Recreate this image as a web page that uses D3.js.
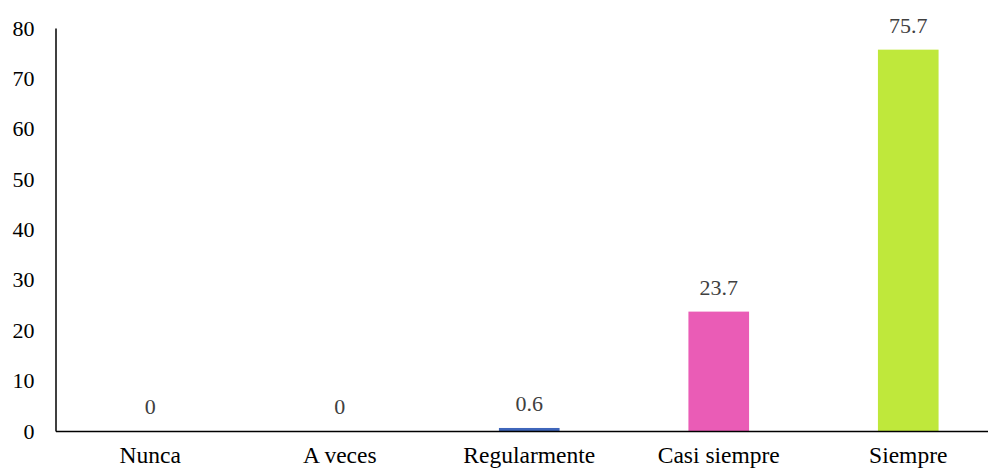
<!DOCTYPE html>
<html>
<head>
<meta charset="utf-8">
<script src="https://cdn.jsdelivr.net/npm/d3@7/dist/d3.min.js"></script>
<style>
  body { margin: 0; background: #fff; }
  svg { display: block; }
</style>
</head>
<body>
<div id="container"></div>
<script>
var width = 988;
var height = 471;
var fontFam = "'Liberation Serif', 'Times New Roman', Times, serif";

// Data
var categories = ["Nunca", "A veces", "Regularmente", "Casi siempre", "Siempre"];
var values = [0, 0, 0.6, 23.7, 75.7];
var barColors = ["#4472c4", "#4472c4", "#3f66bb", "#ea5cb6", "#bfe83b"];
var yTicks = [0, 10, 20, 30, 40, 50, 60, 70, 80];

var svg = d3.select("div#container").append("svg")
    .attr("width", width)
    .attr("height", height)
    .style("font-family", fontFam);

var x = d3.scaleBand()
    .domain(categories)
    .range([55.5, 1003])
    .paddingInner(0.68)
    .paddingOuter(0.34);

var y = d3.scaleLinear()
    .domain([0, 80])
    .range([431, 28]);

// y axis
var yAxis = svg.append("g")
    .attr("transform", "translate(55.5,0)")
    .call(d3.axisLeft(y).tickValues(yTicks).tickSize(0).tickPadding(21))
    .attr("font-family", fontFam);
yAxis.select(".domain").attr("stroke", "#000").attr("stroke-width", 1.5);
yAxis.selectAll("text")
    .attr("fill", "#000")
    .style("font-family", fontFam)
    .style("font-size", "22px");

// bars
svg.selectAll("rect.bar")
    .data(values)
    .enter()
    .append("rect")
    .attr("class", "bar")
    .attr("x", function(d, i) { return x(categories[i]); })
    .attr("width", x.bandwidth())
    .attr("y", function(d) { return y(d); })
    .attr("height", function(d) { return y(0) - y(d); })
    .attr("fill", function(d, i) { return barColors[i]; });

// x axis
var xAxis = svg.append("g")
    .attr("transform", "translate(0,431)")
    .call(d3.axisBottom(x).tickSize(0).tickPadding(15))
    .attr("font-family", fontFam);
xAxis.select(".domain").attr("stroke", "#000").attr("stroke-width", 1.5);
xAxis.selectAll("text")
    .attr("fill", "#000")
    .style("font-family", fontFam)
    .style("font-size", "23.5px");

// value labels
svg.selectAll("text.val")
    .data(values)
    .enter()
    .append("text")
    .attr("class", "val")
    .attr("x", function(d, i) { return x(categories[i]) + x.bandwidth() / 2; })
    .attr("y", function(d) { return y(d) - 17; })
    .attr("text-anchor", "middle")
    .attr("fill", "#404040")
    .style("font-family", fontFam)
    .style("font-size", "22px")
    .text(function(d) { return d; });
</script>
</body>
</html>
